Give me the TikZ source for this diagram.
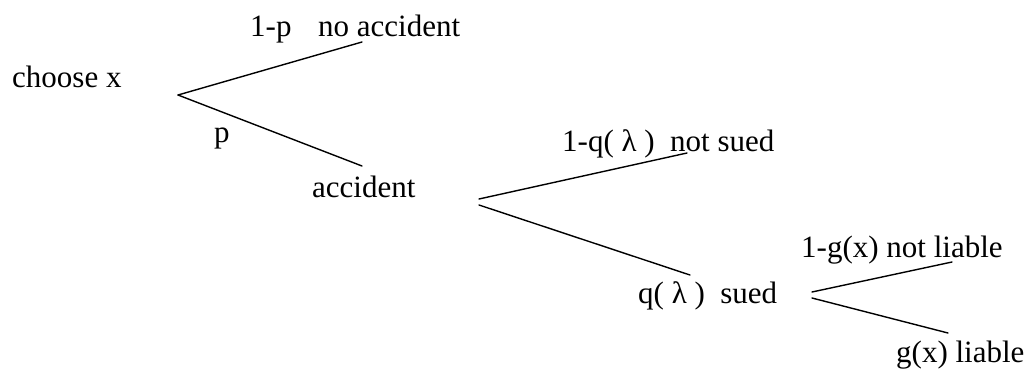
\documentclass[tikz,border=0pt]{standalone}
\usepackage{fontspec}
\setmainfont{Liberation Serif}
\begin{document}
\begin{tikzpicture}[x=1pt,y=-1pt,
  lbl/.style={anchor=base west,inner sep=0pt,font=\fontsize{31}{36}\selectfont},
  branch/.style={line width=1.4pt,line cap=round}]
\useasboundingbox (0,0) rectangle (1029,368);
% labels
\node[lbl] (choose) at (12,87) {choose x};
\node[lbl] (p1) at (250,36) {1-p};
\node[lbl] (noacc) at (318,36) {no accident};
\node[lbl] (p) at (214,142) {p};
\node[lbl] (acc) at (312,197) {accident};
\node[lbl] (notsued) at (562,151) {1-q( λ )\hspace{0.5em}not sued};
\node[lbl] (sued) at (638,303) {q( λ )\hspace{0.5em}sued};
\node[lbl] (notliable) at (801,257) {1-g(x) not liable};
\node[lbl] (liable) at (896,362) {g(x) liable};
% branch points
\coordinate (v1) at (178,95);
\coordinate (e1) at (362,42);
\coordinate (e2) at (362,166);
\coordinate (v2a) at (479,199);
\coordinate (e3) at (687,153);
\coordinate (v2b) at (479,205);
\coordinate (e4) at (690,275);
\coordinate (v3a) at (812,292);
\coordinate (e5) at (952,262);
\coordinate (v3b) at (812,298);
\coordinate (e6) at (948,333);
\draw[branch] (v1) -- (e1);
\draw[branch] (v1) -- (e2);
\draw[branch] (v2a) -- (e3);
\draw[branch] (v2b) -- (e4);
\draw[branch] (v3a) -- (e5);
\draw[branch] (v3b) -- (e6);
\end{tikzpicture}
\end{document}
